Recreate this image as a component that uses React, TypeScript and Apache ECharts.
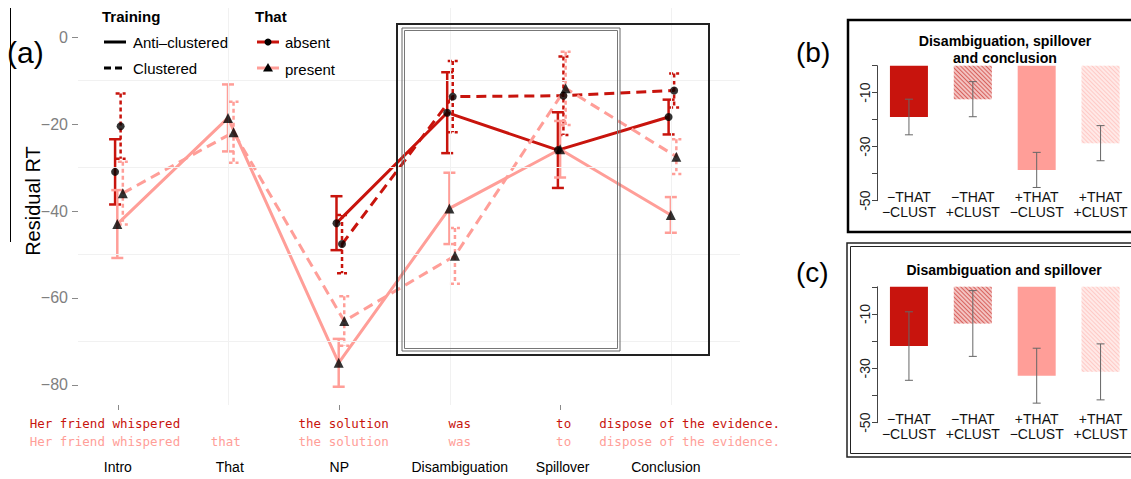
import React, { useEffect, useRef } from 'react';
import * as echarts from 'echarts';

// ---- Panel (a): reading times by region ----
const regions = ['Intro', 'That', 'NP', 'Disambiguation', 'Spillover', 'Conclusion'];
const regionPos = [1, 2, 3, 4, 5, 6];
const redWords = ['Her friend whispered', '', 'the solution', 'was', 'to', 'dispose of the evidence.'];
const pinkWords = ['Her friend whispered', 'that', 'the solution', 'was', 'to', 'dispose of the evidence.'];
const wordPos = [0.883, 1.975, 3.04, 4.088, 5.027, 6.165];
const namePos = [1, 2.011, 3, 4.088, 5.018, 5.95];

const absentAnti = [-31.0, null, -42.8, -17.4, -26.0, -18.4];
const absentAntiSE = [7.5, null, 6.2, 9.3, 8.7, 4.0];
const absentClust = [-20.5, null, -47.6, -13.7, -13.5, -12.3];
const absentClustSE = [7.5, null, 6.7, 8.2, 9.0, 3.9];
const presentAnti = [-43.0, -18.6, -74.9, -39.4, -25.8, -40.9];
const presentAntiSE = [7.8, 7.7, 5.5, 8.2, 6.5, 4.1];
const presentClust = [-35.9, -21.9, -65.3, -50.3, -11.8, -27.5];
const presentClustSE = [7.2, 7.0, 5.7, 6.4, 8.4, 4.0];

const yTickValues = [0, -20, -40, -60, -80];
const yMinorValues = [-10, -30, -50, -70];
const xTickValues = [1, 3, 5];
const xMinorValues = [2, 4, 6];

// ---- Panels (b) and (c): collapsed conditions ----
const barLabels = ['−THAT\n−CLUST', '−THAT\n+CLUST', '+THAT\n−CLUST', '+THAT\n+CLUST'];
const dscMeans = [-19.0, -12.4, -38.6, -28.7];
const dscSE = [6.6, 6.5, 6.5, 6.5];
const dsMeans = [-21.8, -13.5, -32.7, -31.3];
const dsSE = [12.6, 12.1, 10.1, 10.3];
const barTickLabels = [-10, -30, -50];

const DARK = '#C8140D';
const PINK = '#FF9E98';
const FONT = 'Liberation Sans, Arial, sans-serif';
const MONO = 'DejaVu Sans Mono, monospace';

// horizontal dodge of the four groups around each region
const OFF_ABS_ANTI = -0.025;
const OFF_PRE_ANTI = -0.005;
const OFF_ABS_CLUST = 0.025;
const OFF_PRE_CLUST = 0.045;

const X_MIN = 0.64;
const X_MAX = 6.62;
const Y_MIN = -84.6;
const Y_MAX = 6.67;

function pts(vals: (number | null)[], off: number) {
  return vals.map((v, i) => [regionPos[i] + off, v == null ? '-' : v]);
}

function lineSeries(vals: (number | null)[], off: number, color: string, dashed: boolean) {
  return {
    type: 'line',
    xAxisIndex: 0,
    yAxisIndex: 0,
    data: pts(vals, off),
    symbol: 'none',
    connectNulls: false,
    z: 3,
    lineStyle: { color, width: 3, type: dashed ? [10, 6] : 'solid' },
  };
}

function errSeries(vals: (number | null)[], se: (number | null)[], off: number, color: string, dashed: boolean) {
  const data: number[][] = [];
  vals.forEach((v, i) => {
    if (v != null && se[i] != null) data.push([regionPos[i] + off, v - (se[i] as number), v + (se[i] as number)]);
  });
  return {
    type: 'custom',
    xAxisIndex: 0,
    yAxisIndex: 0,
    z: 4,
    data,
    encode: { x: 0, y: [1, 2] },
    renderItem: (params: any, api: any) => {
      const x = api.value(0);
      const lo = api.coord([x, api.value(1)]);
      const hi = api.coord([x, api.value(2)]);
      const half = dashed ? 5 : 6;
      const style: any = { stroke: color, lineWidth: 2.5, fill: 'none' };
      if (dashed) style.lineDash = [4, 3];
      return {
        type: 'group',
        children: [
          { type: 'line', shape: { x1: hi[0], y1: hi[1], x2: lo[0], y2: lo[1] }, style },
          { type: 'line', shape: { x1: hi[0] - half, y1: hi[1], x2: hi[0] + half, y2: hi[1] }, style },
          { type: 'line', shape: { x1: lo[0] - half, y1: lo[1], x2: lo[0] + half, y2: lo[1] }, style },
        ],
      };
    },
  };
}

function markerSeries(vals: (number | null)[], off: number, symbol: string, size: number) {
  return {
    type: 'scatter',
    xAxisIndex: 0,
    yAxisIndex: 0,
    z: 6,
    symbol,
    symbolSize: size,
    itemStyle: { color: '#000' },
    data: pts(vals, off).filter((p) => p[1] !== '-'),
  };
}

function barErrSeries(means: number[], se: number[], xi: number, yi: number) {
  return {
    type: 'custom',
    xAxisIndex: xi,
    yAxisIndex: yi,
    z: 5,
    data: means.map((m, i) => [i, m - se[i], m + se[i]]),
    encode: { x: 0, y: [1, 2] },
    renderItem: (params: any, api: any) => {
      const x = api.value(0);
      const lo = api.coord([x, api.value(1)]);
      const hi = api.coord([x, api.value(2)]);
      const style = { stroke: '#666', lineWidth: 1, fill: 'none' };
      return {
        type: 'group',
        children: [
          { type: 'line', shape: { x1: hi[0], y1: hi[1], x2: lo[0], y2: lo[1] }, style },
          { type: 'line', shape: { x1: hi[0] - 4, y1: hi[1], x2: hi[0] + 4, y2: hi[1] }, style },
          { type: 'line', shape: { x1: lo[0] - 4, y1: lo[1], x2: lo[0] + 4, y2: lo[1] }, style },
        ],
      };
    },
  };
}

const barItemStyles: any[] = [
  { color: DARK },
  {
    color: '#F3C2C0',
    decal: { symbol: 'rect', symbolSize: 1, dashArrayX: [1, 0], dashArrayY: [1, 2], rotation: Math.PI / 4, color: '#D8625E' },
  },
  { color: PINK },
  {
    color: '#FFE9E7',
    decal: { symbol: 'rect', symbolSize: 1, dashArrayX: [1, 0], dashArrayY: [1, 2], rotation: Math.PI / 4, color: '#FFCAC6' },
  },
];

function barSeries(means: number[], xi: number, yi: number) {
  return {
    type: 'bar',
    xAxisIndex: xi,
    yAxisIndex: yi,
    barWidth: 38,
    z: 2,
    data: means.map((m, i) => ({ value: m, itemStyle: barItemStyles[i] })),
  };
}

function wordAxis(words: string[], color: string, offset: number, font: string, size: number, positions: number[]) {
  const used = positions.filter((_, i) => words[i] !== '');
  return {
    type: 'value',
    gridIndex: 0,
    min: X_MIN,
    max: X_MAX,
    position: 'bottom',
    offset,
    axisLine: { show: false, onZero: false },
    axisTick: { show: false },
    splitLine: { show: false },
    axisLabel: {
      show: true,
      customValues: used,
      margin: 0,
      color,
      fontFamily: font,
      fontSize: size,
      formatter: (v: number) => {
        const i = positions.findIndex((p) => Math.abs(p - v) < 1e-6);
        return i >= 0 ? words[i] : '';
      },
    },
  };
}

function barXAxis(gridIndex: number) {
  return {
    type: 'category',
    gridIndex,
    position: 'bottom',
    data: barLabels,
    axisLine: { show: false, onZero: false },
    axisTick: { show: false },
    axisLabel: { interval: 0, margin: -11, fontSize: 14, lineHeight: 15, color: '#111', fontFamily: FONT, align: 'center' },
  };
}

function barYAxis(gridIndex: number) {
  return {
    type: 'value',
    gridIndex,
    min: -50,
    max: 0,
    interval: 10,
    axisLine: { show: true, onZero: false, lineStyle: { color: '#444', width: 1 } },
    axisTick: { show: true, length: 5, lineStyle: { color: '#444' } },
    splitLine: { show: false },
    axisLabel: {
      rotate: 90,
      margin: 5,
      fontSize: 14,
      color: '#222',
      fontFamily: FONT,
      formatter: (v: number) => (barTickLabels.indexOf(v) >= 0 ? String(v) : ''),
    },
  };
}

function rectOutline(x: number, y: number, w: number, h: number, stroke: string, lw: number) {
  return { type: 'rect', shape: { x, y, width: w, height: h }, style: { fill: 'none', stroke, lineWidth: lw }, z: 10 };
}

function label(text: string, x: number, y: number, size: number, extra: any = {}) {
  return {
    type: 'text',
    x,
    y,
    z: 10,
    style: { text, fontSize: size, fontFamily: FONT, fill: '#000', verticalAlign: 'middle', ...extra },
  };
}

export default function App() {
  const ref = useRef<HTMLDivElement>(null);

  useEffect(() => {
    if (!ref.current) return;
    const chart = echarts.init(ref.current, undefined, { renderer: 'svg' });

    const option: any = {
      animation: false,
      backgroundColor: '#fff',
      grid: [
        { left: 78, top: 8, width: 662, height: 397, outerBoundsMode: 'none' },
        { left: 877, top: 65.7, width: 255.5, height: 135, outerBoundsMode: 'none' },
        { left: 877, top: 286.8, width: 255.5, height: 135.9, outerBoundsMode: 'none' },
      ],
      xAxis: [
        {
          type: 'value',
          gridIndex: 0,
          min: X_MIN,
          max: X_MAX,
          position: 'bottom',
          axisLine: { show: false, onZero: false },
          axisTick: { show: true, customValues: xTickValues, length: 5, lineStyle: { color: '#8a8a8a' } },
          axisLabel: { show: false },
          splitLine: { show: false },
        },
        wordAxis(redWords, DARK, 12, MONO, 12.5, wordPos),
        wordAxis(pinkWords, PINK, 30, MONO, 12.5, wordPos),
        wordAxis(regions, '#000', 55, FONT, 14, namePos),
        barXAxis(1),
        barXAxis(2),
      ],
      yAxis: [
        {
          type: 'value',
          gridIndex: 0,
          min: Y_MIN,
          max: Y_MAX,
          axisLine: { show: false, onZero: false },
          axisTick: { show: true, customValues: yTickValues, length: 6, lineStyle: { color: '#8a8a8a' } },
          axisLabel: {
            customValues: yTickValues,
            margin: 10,
            fontSize: 16,
            color: '#7f7f7f',
            fontFamily: FONT,
            formatter: (v: number) => (v < 0 ? '−' + Math.abs(v) : String(v)),
          },
          splitLine: { show: false },
        },
        barYAxis(1),
        barYAxis(2),
      ],
      series: [
        {
          type: 'line',
          xAxisIndex: 0,
          yAxisIndex: 0,
          data: [],
          z: 1,
          markLine: {
            silent: true,
            symbol: ['none', 'none'],
            label: { show: false },
            lineStyle: { color: '#F1F1F1', width: 1, type: 'solid' },
            data: [
              ...yMinorValues.map((v) => ({ yAxis: v })),
              ...xMinorValues.map((v) => ({ xAxis: v })),
            ],
          },
        },
        lineSeries(absentAnti, OFF_ABS_ANTI, DARK, false),
        lineSeries(absentClust, OFF_ABS_CLUST, DARK, true),
        lineSeries(presentAnti, OFF_PRE_ANTI, PINK, false),
        lineSeries(presentClust, OFF_PRE_CLUST, PINK, true),
        errSeries(absentAnti, absentAntiSE, OFF_ABS_ANTI, DARK, false),
        errSeries(absentClust, absentClustSE, OFF_ABS_CLUST, DARK, true),
        errSeries(presentAnti, presentAntiSE, OFF_PRE_ANTI, PINK, false),
        errSeries(presentClust, presentClustSE, OFF_PRE_CLUST, PINK, true),
        markerSeries(absentAnti, OFF_ABS_ANTI, 'circle', 8),
        markerSeries(absentClust, OFF_ABS_CLUST, 'circle', 8),
        markerSeries(presentAnti, OFF_PRE_ANTI, 'triangle', 10),
        markerSeries(presentClust, OFF_PRE_CLUST, 'triangle', 10),
        barSeries(dscMeans, 4, 1),
        barErrSeries(dscMeans, dscSE, 4, 1),
        barSeries(dsMeans, 5, 2),
        barErrSeries(dsMeans, dsSE, 5, 2),
      ],
      graphic: [
        // panel (a) decorations
        { type: 'line', shape: { x1: 10.5, y1: 8, x2: 10.5, y2: 242 }, style: { stroke: '#000', lineWidth: 1 }, z: 10 },
        label('(a)', 7, 52, 30),
        {
          type: 'text',
          x: 33,
          y: 201,
          rotation: Math.PI / 2,
          z: 10,
          style: { text: 'Residual RT', fontSize: 20, fontFamily: FONT, fill: '#000', align: 'center', verticalAlign: 'middle' },
        },
        label('Training', 102, 16, 15, { fontWeight: 'bold' }),
        { type: 'line', shape: { x1: 104, y1: 42, x2: 126, y2: 42 }, style: { stroke: '#000', lineWidth: 3 }, z: 10 },
        label('Anti–clustered', 133, 42, 15),
        { type: 'line', shape: { x1: 104, y1: 68, x2: 126, y2: 68 }, style: { stroke: '#000', lineWidth: 3, lineDash: [7, 4] }, z: 10 },
        label('Clustered', 133, 68, 15),
        label('That', 255, 16, 15, { fontWeight: 'bold' }),
        { type: 'line', shape: { x1: 257, y1: 42, x2: 279, y2: 42 }, style: { stroke: DARK, lineWidth: 3 }, z: 10 },
        { type: 'circle', shape: { cx: 268, cy: 42, r: 3.5 }, style: { fill: '#000' }, z: 11 },
        label('absent', 285, 42, 15),
        { type: 'line', shape: { x1: 257, y1: 68, x2: 279, y2: 68 }, style: { stroke: PINK, lineWidth: 3 }, z: 10 },
        { type: 'polygon', shape: { points: [[268, 63], [273, 71.5], [263, 71.5]] }, style: { fill: '#000' }, z: 11 },
        label('present', 285, 69, 15),
        rectOutline(397, 24, 312, 331, '#222', 2),
        rectOutline(402, 28, 218, 323, '#666', 1),
        rectOutline(404.5, 30.5, 213, 318, '#777', 1),
        // panel (b)
        label('(b)', 796, 52, 28),
        rectOutline(848, 20, 290, 212, '#000', 2.5),
        {
          type: 'text',
          x: 1005,
          y: 49,
          z: 10,
          style: {
            text: 'Disambiguation, spillover\nand conclusion',
            fontSize: 14.2,
            lineHeight: 17,
            fontWeight: 'bold',
            fontFamily: FONT,
            fill: '#000',
            align: 'center',
            verticalAlign: 'middle',
          },
        },
        // panel (c)
        label('(c)', 796, 272, 28),
        rectOutline(847, 243, 290, 214, '#222', 1.5),
        rectOutline(850.5, 246.5, 290, 207, '#222', 1),
        label('Disambiguation and spillover', 1004, 270, 14, { fontWeight: 'bold', align: 'center' }),
      ],
    };

    chart.setOption(option);
    return () => chart.dispose();
  }, []);

  return <div ref={ref} style={{ position: 'fixed', left: 0, top: 0, width: 1131, height: 479 }} />;
}
